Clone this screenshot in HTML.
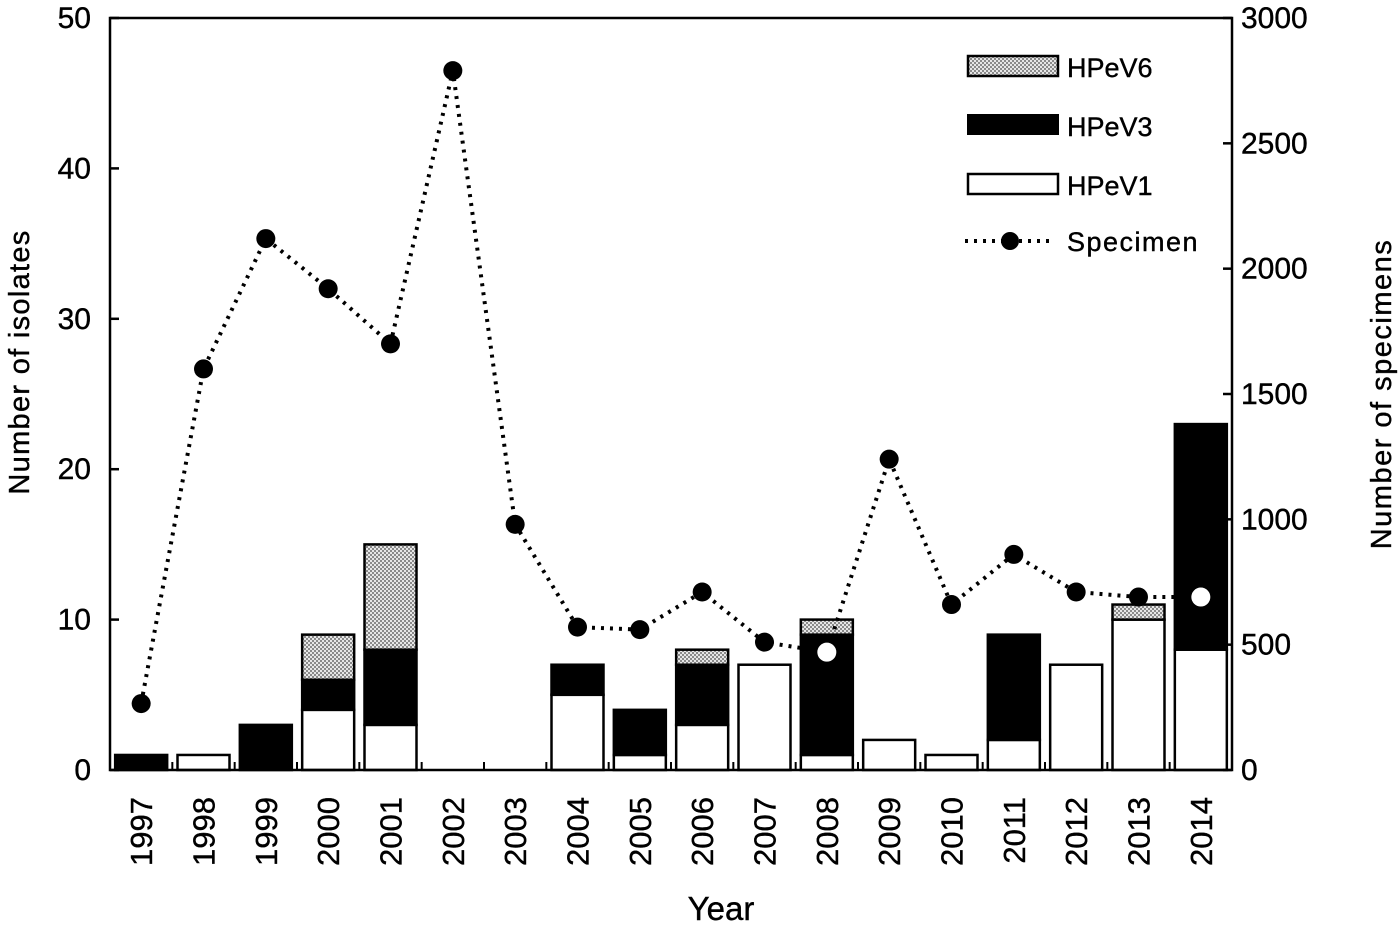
<!DOCTYPE html>
<html><head><meta charset="utf-8">
<style>
html,body{margin:0;padding:0;background:#fff;}
svg text{font-family:"Liberation Sans",Arial,sans-serif;fill:#000;stroke:#000;stroke-width:0.4;}
</style></head>
<body>
<svg id="chart" width="1400" height="924" viewBox="0 0 1400 924" xmlns="http://www.w3.org/2000/svg">
<defs>
<pattern id="dots" width="4" height="4" patternUnits="userSpaceOnUse">
<rect width="4" height="4" fill="#e6e6e6"/>
<rect x="0" y="0" width="2" height="2" fill="#8a8a8a"/>
<rect x="2" y="2" width="2" height="2" fill="#8a8a8a"/>
</pattern>
</defs>
<g id="bars"></g>
<g id="line"></g>
<g id="axes"></g>
<g>
<rect x="968" y="56" width="90" height="20" fill="url(#dots)" stroke="#000" stroke-width="2.5"/>
<text x="1067" y="77" font-size="27">HPeV6</text>
<rect x="967" y="114" width="92" height="21" fill="#000"/>
<text x="1067" y="136" font-size="27">HPeV3</text>
<rect x="968" y="174" width="90" height="20" fill="#fff" stroke="#000" stroke-width="2.5"/>
<text x="1067" y="195" font-size="27">HPeV1</text>
<line x1="965" y1="241" x2="1055" y2="241" stroke="#000" stroke-width="4" stroke-dasharray="3,6"/>
<circle cx="1010" cy="241" r="9" fill="#000"/>
<text x="1067" y="251" font-size="27" letter-spacing="1.5">Specimen</text>
</g>
<text x="721" y="920" font-size="33" text-anchor="middle">Year</text>
<text transform="translate(29,362) rotate(-90)" font-size="29" letter-spacing="1.3" text-anchor="middle">Number of isolates</text>
<text transform="translate(1391,394) rotate(-90)" font-size="29" letter-spacing="1.5" text-anchor="middle">Number of specimens</text>
</svg>
<script>
const years = ['1997','1998','1999','2000','2001','2002','2003','2004','2005','2006','2007','2008','2009','2010','2011','2012','2013','2014'];
const hpev1 = [0,1,0,4,3,0,0,5,1,3,7,1,2,1,2,7,10,8];
const hpev3 = [1,0,3,2,5,0,0,2,3,4,0,8,0,0,7,0,0,15];
const hpev6 = [0,0,0,3,7,0,0,0,0,1,0,1,0,0,0,0,1,0];
const specimens = [265,1600,2120,1920,1700,2790,980,570,560,710,510,470,1240,660,860,710,690,690];
const leftTicks = [0,10,20,30,40,50];
const rightTicks = [0,500,1000,1500,2000,2500,3000];

const NS='http://www.w3.org/2000/svg';
const L=110,R=1232,T=18,B=770;
const band=(R-L)/years.length;
const xc=i=>L+band*(i+0.5);
const yL=v=>B-(v/50)*(B-T);
const yR=v=>B-(v/3000)*(B-T);
function mk(tag,attrs,parent){const e=document.createElementNS(NS,tag);for(const k in attrs)e.setAttribute(k,attrs[k]);parent.appendChild(e);return e;}
const gb=document.getElementById('bars'),gl=document.getElementById('line'),ga=document.getElementById('axes');
const bw=52;
years.forEach((y,i)=>{
  let base=0;
  const segs=[[hpev1[i],'#fff','hpev1'],[hpev3[i],'#000','hpev3'],[hpev6[i],'url(#dots)','hpev6']];
  segs.forEach(s=>{
    if(s[0]<=0)return;
    const r=mk('rect',{x:xc(i)-bw/2,y:yL(base+s[0]),width:bw,height:yL(base)-yL(base+s[0]),fill:s[1],stroke:'#000','stroke-width':2.5},gb);
    
    
    base+=s[0];
  });
});
let d='';
specimens.forEach((v,i)=>{d+=(i?'L':'M')+xc(i)+','+yR(v);});
const p=mk('path',{d:d,fill:'none',stroke:'#000','stroke-width':4,'stroke-dasharray':'3,6'},gl);


specimens.forEach((v,i)=>{
  const yv=yR(v);
  const lo=yL(hpev1[i]),hi=yL(hpev1[i]+hpev3[i]);
  const inBlack=hpev3[i]>0&&yv<=lo&&yv>=hi;
  const c=mk('circle',{cx:xc(i),cy:yv,r:9.5,fill:inBlack?'#fff':'#000'},gl);
  
  
});
const fr=mk('rect',{x:L,y:T,width:R-L,height:B-T,fill:'none',stroke:'#000','stroke-width':2.5},ga);


leftTicks.forEach(v=>{
  const t=mk('line',{x1:L,x2:L+9,y1:yL(v),y2:yL(v),stroke:'#000','stroke-width':2.5},ga);
  
  
  const tx=mk('text',{x:L-19,y:yL(v)+10,'font-size':30,'text-anchor':'end'},ga);tx.textContent=v;
  
  
});
rightTicks.forEach(v=>{
  const t=mk('line',{x1:R-9,x2:R,y1:yR(v),y2:yR(v),stroke:'#000','stroke-width':2.5},ga);
  
  
  const tx=mk('text',{x:R+9,y:yR(v)+10,'font-size':30,'text-anchor':'start'},ga);tx.textContent=v;
  
  
});
years.forEach((y,i)=>{
  const t=mk('line',{x1:L+band*(i+1),x2:L+band*(i+1),y1:B,y2:B-8,stroke:'#000','stroke-width':2},ga);
  
  
  const tx=mk('text',{transform:'translate('+(xc(i)+11)+',797) rotate(-90)','font-size':31,'text-anchor':'end'},ga);tx.textContent=y;
  
  
});
</script>
</body></html>
